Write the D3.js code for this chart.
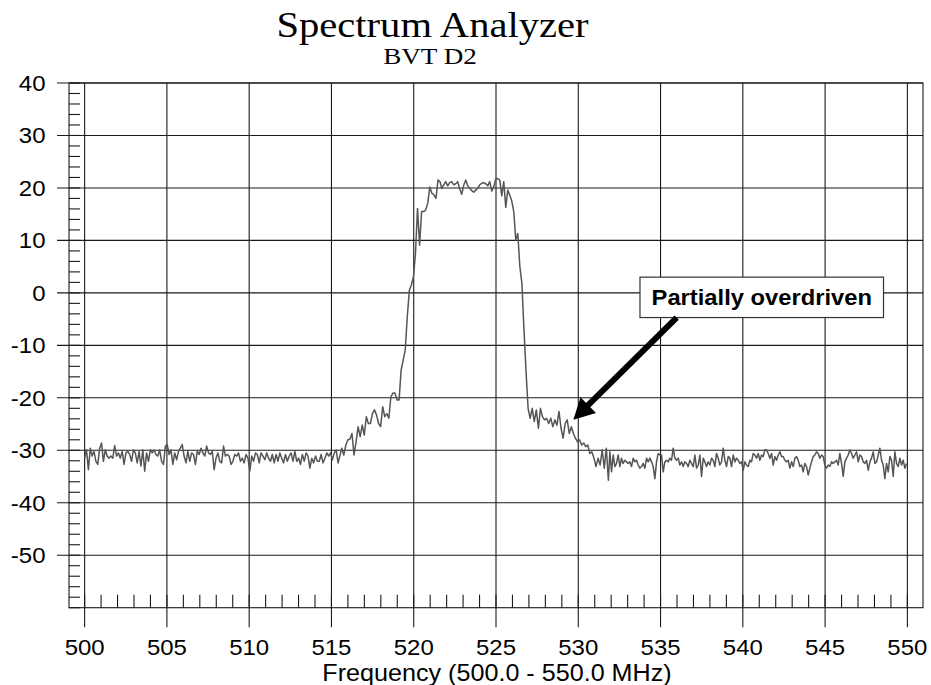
<!DOCTYPE html>
<html>
<head>
<meta charset="utf-8">
<title>Spectrum Analyzer</title>
<script src="https://cdn.jsdelivr.net/npm/d3@7"></script>
<style>
  body { margin: 0; background: #fff; }
  svg { display: block; }
  .sans { font-family: "Liberation Sans", Arial, sans-serif; fill: #000; }
  .serif { font-family: "Liberation Serif", "Times New Roman", serif; fill: #000; }
</style>
</head>
<body>
<div id="chart"></div>
<script>
// trace readings in dB, one array per sweep band
const lowBand = [
  -31.5, -29.9, -33.7, -29.6, -31.1, -30.2, -32.1, -32.7, -29.6, -28.6,
  -32.1, -29.9, -31.1, -31.5, -31.1, -31.5, -29.1, -31.1, -30.5, -31.5,
  -30.2, -32.7, -30.5, -30.2, -30.8, -32.1, -29.9, -30.5, -32.4, -30.2,
  -33.0, -29.9, -34.0, -30.5, -32.1, -29.9, -30.5, -29.9, -30.8, -31.1,
  -29.9, -32.1, -32.7, -29.2, -28.9, -30.8, -29.9, -32.7, -30.5, -31.8,
  -30.2, -29.6, -28.9, -31.1, -32.4, -30.2, -32.1, -30.5, -30.8, -32.7,
  -30.2, -30.8, -29.6, -30.5, -31.1, -29.2, -30.5, -30.8, -30.2, -33.7,
  -31.5, -30.5, -32.1, -32.4, -29.2, -31.1, -30.8, -31.1, -32.7, -32.1,
  -30.8, -31.1, -30.5, -32.1, -31.5, -32.4, -30.8, -31.5, -34.0, -31.1,
  -32.1, -30.5, -30.8, -32.4, -30.5, -31.1, -31.8, -30.5, -31.5, -32.1,
  -30.8, -32.4, -30.8, -32.1, -30.5, -31.5, -32.4, -30.8, -32.1, -31.1,
  -30.5, -32.1, -30.2, -32.1, -31.5, -32.7, -30.8, -32.1, -30.5, -31.1,
  -33.4, -31.5, -32.4, -31.1, -32.1, -32.1, -30.8, -32.4, -31.5, -30.5,
  -31.1, -30.5, -31.8, -30.5, -29.9, -32.4
];
const riseBand = [
  -31.2, -29.6, -30.9, -29.0, -28.0, -27.9, -26.8, -30.9, -28.4, -25.5,
  -27.4, -25.2, -27.1, -23.6, -24.9, -24.9, -23.0, -22.3, -23.3, -24.9,
  -25.5, -21.7, -23.6, -23.0, -23.9, -19.8, -19.1, -19.1, -20.4, -20.4,
  -14.7, -12.8, -10.9, -4.5, 0.5, 1.5, 3.1, 7.5, 16.1, 9.1,
  15.5, 15.5, 15.8, 17.1, 20.2, 19.0, 18.7, 18.0, 21.5, 21.2
];
const topBand = [
  19.9, 20.6, 21.2, 20.4, 21.0, 21.2, 20.6, 20.8, 21.2, 19.8,
  18.8, 20.5, 21.5, 20.4, 19.9, 19.5, 19.2, 19.6, 19.9, 20.6,
  20.9, 21.0, 20.8, 20.4, 21.2, 19.4, 20.2, 21.7, 21.8, 21.5,
  18.5, 21.2, 16.3, 19.6, 18.6, 17.5, 15.5
];
const fallBand = [
  10.1, 11.3, 5.0, 1.8, -7.1, -15.0, -22.0, -23.9, -22.0, -24.5,
  -22.3, -25.8, -22.0, -23.6, -24.2, -23.9, -24.9, -23.9, -25.5, -24.2,
  -25.2, -22.6, -25.8, -27.7, -24.9, -24.2, -26.8, -25.5, -26.8, -27.7,
  -28.4, -28.0, -29.0, -28.6, -29.3, -29.0, -30.6, -30.3, -31.5, -33.1,
  -31.5, -32.8, -29.9, -33.4, -29.6, -35.7
];
const highBand = [
  -30.3, -34.1, -30.9, -33.1, -32.5, -30.9, -33.1, -31.5, -32.5, -31.9,
  -32.2, -32.5, -32.2, -33.1, -31.5, -32.2, -31.9, -32.8, -33.4, -33.1,
  -32.5, -33.4, -31.5, -32.2, -31.5, -32.2, -33.1, -35.4, -32.2, -30.6,
  -30.9, -30.9, -34.1, -32.2, -31.9, -32.2, -31.5, -31.9, -29.6, -31.5,
  -31.9, -31.5, -32.8, -32.2, -33.1, -32.2, -32.5, -33.1, -31.9, -32.5,
  -33.1, -30.9, -33.4, -32.8, -30.9, -35.0, -31.5, -32.2, -33.1, -32.2,
  -32.8, -31.5, -31.9, -33.1, -30.6, -31.5, -32.8, -32.2, -29.6, -31.9,
  -33.1, -31.2, -31.5, -33.1, -30.9, -32.2, -31.5, -31.9, -32.5, -32.2,
  -33.8, -32.2, -32.8, -33.1, -31.9, -32.2, -30.6,
  -30.9, -31.5, -30.6, -31.9, -30.9, -31.2, -29.9, -29.9, -30.6, -31.5,
  -30.6, -32.8, -31.2, -31.9, -30.9, -30.3, -31.2, -31.2, -31.9, -32.2,
  -31.9, -33.4, -32.2, -33.1, -31.5, -31.2, -31.9, -33.1, -32.8, -34.1,
  -32.5, -33.1, -34.7, -33.4, -32.2, -31.2, -30.9, -30.3, -30.6, -31.5,
  -30.9, -31.2, -32.8, -33.4, -32.8, -33.1, -32.2, -32.5, -32.2, -31.9,
  -32.8, -30.6, -32.5, -35.0, -32.2, -31.5, -30.9, -29.9, -30.6, -31.5,
  -30.9, -30.3, -32.2, -30.9, -31.2, -32.2, -32.5, -31.9, -33.8, -32.2,
  -31.5, -30.3, -32.5, -32.2, -30.9, -29.6, -31.9, -32.8, -35.4, -32.5,
  -34.1, -31.2, -31.9, -35.0, -30.3, -32.5, -33.1, -31.5, -32.8, -31.9,
  -33.4, -32.5
];
// first and last frequency (MHz) of each band
const bandStart = [500.0, 515.5, 521.7, 526.2, 531.92];
const bandStop = [515.4, 521.6, 526.08, 531.83, 549.95];

const yTicks = [40, 30, 20, 10, 0, -10, -20, -30, -40, -50];
const xTicks = [500, 505, 510, 515, 520, 525, 530, 535, 540, 545, 550];

const titleText = 'Spectrum Analyzer';
const subtitleText = 'BVT D2';
const xTitleText = 'Frequency (500.0 - 550.0 MHz)';
const noteText = 'Partially overdriven';
const notePoint = [529.7, -24.2];       // arrow tip (MHz, dB)
const noteBox = [533.75, 548.55, 3.0, -4.7]; // f0, f1, top dB, bottom dB

var width = 931, height = 685;
// frame edges in px
var frame = { left: 69, right: 923, top: 83, bottom: 607.7 };

var x = d3.scaleLinear().domain([499.05, 550.95]).range([frame.left, frame.right]);
var y = d3.scaleLinear().domain([-60, 40]).range([frame.bottom, frame.top]);

var bands = [lowBand, riseBand, topBand, fallBand, highBand];
var trace = bands.flatMap(function(vals, b) {
  var step = (bandStop[b] - bandStart[b]) / (vals.length - 1);
  return vals.map(function(v, i) { return { f: bandStart[b] + i * step, db: v }; });
});

var svg = d3.select('#chart').append('svg')
  .attr('width', width)
  .attr('height', height);

svg.append('rect').attr('width', width).attr('height', height).attr('fill', '#fff');

// text that is a little wider than the font (source was stretched)
function putText(g, str, px, py, cls, size, sx, anchor, weight) {
  return g.append('text')
    .attr('class', cls)
    .attr('transform', 'translate(' + px + ',' + py + ') scale(' + sx + ',1)')
    .attr('text-anchor', anchor)
    .attr('font-size', size)
    .attr('font-weight', weight || 'normal')
    .text(str);
}

// title
putText(svg, titleText, 432.5, 36.5, 'serif', 35, 1.16, 'middle');
putText(svg, subtitleText, 430, 63.5, 'serif', 23, 1.18, 'middle');

var grid = svg.append('g').attr('stroke', '#1a1a1a').attr('stroke-width', 1.1);

// horizontal grid, reaching out past the axis
grid.selectAll('.hgrid').data(yTicks).enter().append('line')
  .attr('class', 'hgrid')
  .attr('x1', frame.left - 12).attr('x2', frame.right)
  .attr('y1', function(d) { return y(d); }).attr('y2', function(d) { return y(d); });

// vertical grid, dropping below the frame
grid.selectAll('.vgrid').data(xTicks).enter().append('line')
  .attr('class', 'vgrid')
  .attr('x1', function(d) { return x(d); }).attr('x2', function(d) { return x(d); })
  .attr('y1', frame.top).attr('y2', frame.bottom + 19.5);

// minor ticks on left (2 dB) and bottom (1 MHz)
grid.selectAll('.ytick').data(d3.range(-60, 41, 2)).enter().append('line')
  .attr('x1', frame.left).attr('x2', frame.left + 11)
  .attr('y1', function(d) { return y(d); }).attr('y2', function(d) { return y(d); });

grid.selectAll('.xtick').data(d3.range(500, 551, 1)).enter().append('line')
  .attr('x1', function(d) { return x(d); }).attr('x2', function(d) { return x(d); })
  .attr('y1', frame.bottom - 13).attr('y2', frame.bottom);

// frame
svg.append('rect')
  .attr('x', frame.left).attr('y', frame.top)
  .attr('width', frame.right - frame.left).attr('height', frame.bottom - frame.top)
  .attr('fill', 'none').attr('stroke', '#1a1a1a').attr('stroke-width', 1.1);

// tick labels
var labels = svg.append('g');
yTicks.forEach(function(t) {
  putText(labels, t, 45.5, y(t) + 8, 'sans', 22, 1.09, 'end');
});
xTicks.forEach(function(t) {
  putText(labels, t, x(t), 655, 'sans', 22, 1.09, 'middle');
});
putText(labels, xTitleText, 497, 680.5, 'sans', 23.5, 1.07, 'middle');

// the trace
var line = d3.line()
  .x(function(d) { return x(d.f); })
  .y(function(d) { return y(d.db); });

svg.append('path')
  .datum(trace)
  .attr('d', line)
  .attr('fill', 'none')
  .attr('stroke', '#555')
  .attr('stroke-width', 1.5)
  .attr('stroke-linejoin', 'round');

// annotation box + arrow
var note = svg.append('g');
var bx0 = x(noteBox[0]), bx1 = x(noteBox[1]), by0 = y(noteBox[2]), by1 = y(noteBox[3]);
note.append('rect')
  .attr('x', bx0).attr('y', by0)
  .attr('width', bx1 - bx0).attr('height', by1 - by0)
  .attr('fill', '#fff').attr('stroke', '#333').attr('stroke-width', 1.2);
putText(note, noteText, (bx0 + bx1) / 2, (by0 + by1) / 2 + 8, 'sans', 22, 1.08, 'middle', 'bold');

var tipX = x(notePoint[0]), tipY = y(notePoint[1]);
var tailX = bx0 + 36.7, tailY = by1;
var dx = tipX - tailX, dy = tipY - tailY, len = Math.hypot(dx, dy);
var ux = dx / len, uy = dy / len;
var headLen = 21, headHalf = 11;
var baseX = tipX - ux * headLen, baseY = tipY - uy * headLen;

note.append('line')
  .attr('x1', tailX).attr('y1', tailY)
  .attr('x2', baseX + ux * 2).attr('y2', baseY + uy * 2)
  .attr('stroke', '#000').attr('stroke-width', 6);

note.append('path')
  .attr('d', 'M' + tipX + ',' + tipY +
    'L' + (baseX - uy * headHalf) + ',' + (baseY + ux * headHalf) +
    'L' + (baseX + uy * headHalf) + ',' + (baseY - ux * headHalf) + 'Z')
  .attr('fill', '#000');
</script>
</body>
</html>
